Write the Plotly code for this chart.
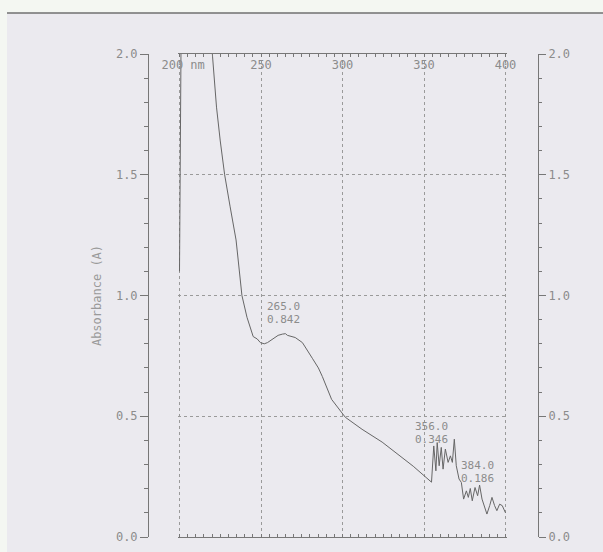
import plotly.graph_objects as go

# ---- data ----
wavelength_nm = [200.0, 200.6, 201.2, 205.0, 210.0, 215.0, 219.0, 220.2, 222.7, 225.0,
                 227.7, 231.0, 234.7, 238.3, 241.4, 245.2, 247.7, 249.6, 252.0, 254.0,
                 257.6, 260.5, 263.1, 265.0, 266.2, 271.0, 275.4, 278.4, 281.5, 285.2,
                 287.6, 293.3, 301.7, 312.0, 324.3, 343.4, 354.6, 356.0, 357.3, 358.1,
                 359.3, 360.6, 361.7, 363.1, 364.8, 366.2, 367.4, 368.6, 369.8, 371.5,
                 372.9, 374.3, 376.0, 377.2, 378.4, 379.6, 381.3, 382.9, 384.1, 385.6,
                 387.2, 388.6, 390.3, 391.7, 393.3, 394.7, 396.4, 398.0, 400.0]
absorbance = [1.10, 1.70, 2.30, 2.30, 2.30, 2.30, 2.10, 2.00, 1.78, 1.64,
              1.50, 1.37, 1.23, 1.00, 0.91, 0.83, 0.82, 0.805, 0.80, 0.805,
              0.82, 0.835, 0.84, 0.842, 0.835, 0.826, 0.805, 0.77, 0.74, 0.70,
              0.665, 0.57, 0.496, 0.446, 0.393, 0.293, 0.227, 0.377, 0.274, 0.391,
              0.295, 0.371, 0.281, 0.364, 0.309, 0.336, 0.309, 0.405, 0.295, 0.240,
              0.226, 0.157, 0.191, 0.164, 0.201, 0.150, 0.205, 0.171, 0.215, 0.157,
              0.123, 0.095, 0.130, 0.164, 0.130, 0.109, 0.136, 0.130, 0.100]

peak_nm = [265.0, 356.0, 384.0]
peak_abs = [0.842, 0.346, 0.186]

x_tickvals = [200, 250, 300, 350, 400]
x_ticktext = ["\u00a0200\u00a0nm", "250", "300", "350", "400"]
y_tickvals = [0.0, 0.5, 1.0, 1.5, 2.0]
y_ticktext = ["0.0", "0.5", "1.0", "1.5", "2.0"]

# ---- styling ----
MONO = "DejaVu Sans Mono"
TXT = "#8c8c8c"
AX = "#777777"
GRID = "#9a9a9a"
PAPER = "#ebeaef"

L, R, T, B = 148, 65, 54, 8
W, H = 603, 552
pw = W - L - R
ph = 538 - T          # drawn plot height in pixels
PX_PER_NM = (505.5 - 179.5) / 200.0
X_RANGE = [199.0, 401.0]          # tiny pad so edge grid lines stay visible
x0 = (179.5 - (200 - X_RANGE[0]) * PX_PER_NM - L) / pw
x1 = (505.5 + (X_RANGE[1] - 400) * PX_PER_NM - L) / pw


def px_to_paper_y(py):
    return (538 - py) / ph


def px_to_paper_x(px):
    return (px - L) / pw


fig = go.Figure()
fig.add_trace(go.Scatter(x=wavelength_nm, y=absorbance, mode="lines",
                         line=dict(color="#666666", width=1),
                         showlegend=False, hoverinfo="x+y"))
# invisible trace so the label axis and the right-hand axis are drawn
fig.add_trace(go.Scatter(x=[wavelength_nm[-1]], y=[absorbance[-1]],
                         xaxis="x2", yaxis="y2",
                         mode="markers", marker=dict(opacity=0),
                         showlegend=False, hoverinfo="skip"))

for wl, a in zip(peak_nm, peak_abs):
    for txt, dy in ((f"{wl:.1f}", 27), (f"{a:.3f}", 14)):
        fig.add_annotation(x=wl, y=a, text=txt, showarrow=False,
                           xanchor="center", yanchor="middle",
                           xshift=-2, yshift=dy,
                           font=dict(family=MONO, size=11, color=TXT))

# scanned-paper edge decorations
fig.add_shape(type="rect", xref="paper", yref="paper",
              x0=px_to_paper_x(-5), x1=px_to_paper_x(610),
              y0=px_to_paper_y(13), y1=px_to_paper_y(-5),
              fillcolor="#f4f7f2", line=dict(width=0), layer="below")
fig.add_shape(type="rect", xref="paper", yref="paper",
              x0=px_to_paper_x(-5), x1=px_to_paper_x(7),
              y0=px_to_paper_y(560), y1=px_to_paper_y(13),
              fillcolor="#f4f7f2", line=dict(width=0), layer="below")
fig.add_shape(type="line", xref="paper", yref="paper",
              x0=px_to_paper_x(7), x1=px_to_paper_x(610),
              y0=px_to_paper_y(13), y1=px_to_paper_y(13),
              line=dict(color="#707070", width=1.5))

fig.update_layout(
    width=W, height=H,
    margin=dict(l=L, r=R, t=T, b=B, pad=0),
    paper_bgcolor=PAPER, plot_bgcolor=PAPER,
    font=dict(family=MONO, size=12, color=TXT),
    xaxis=dict(
        domain=[x0, x1], range=X_RANGE, side="top",
        tickvals=x_tickvals, showticklabels=False,
        ticks="inside", ticklen=3,
        tickcolor=AX, showline=True, linecolor=AX, linewidth=1,
        mirror="ticks", showgrid=True, gridcolor=GRID, griddash="dot",
        gridwidth=1, zeroline=False,
        minor=dict(dtick=5, ticks="inside", ticklen=3, tickcolor=AX,
                   showgrid=False),
    ),
    xaxis2=dict(
        domain=[x0, x1], range=X_RANGE, overlaying="x",
        anchor="free", position=px_to_paper_y(71), side="top",
        tickvals=x_tickvals, ticktext=x_ticktext,
        ticks="", showline=False, showgrid=False, zeroline=False,
        tickfont=dict(family=MONO, size=12, color=TXT),
    ),
    yaxis=dict(
        range=[0, 2], anchor="free", position=0, side="left",
        tickvals=y_tickvals, ticktext=y_ticktext,
        ticks="outside", ticklen=8, tickcolor=AX,
        showline=True, linecolor=AX, linewidth=1,
        showgrid=True, gridcolor=GRID, griddash="dot", gridwidth=1,
        zeroline=False,
        minor=dict(dtick=0.1, ticks="outside", ticklen=4, tickcolor=AX,
                   showgrid=False),
        title=dict(text="Absorbance (A)", standoff=10,
                   font=dict(family=MONO, size=12, color="#9a9a9a")),
        tickfont=dict(family=MONO, size=12, color=TXT),
    ),
    yaxis2=dict(
        range=[0, 2], anchor="free", position=1, side="right",
        overlaying="y",
        tickvals=y_tickvals, ticktext=y_ticktext,
        ticks="outside", ticklen=7, tickcolor=AX,
        showline=True, linecolor=AX, linewidth=1,
        showgrid=False, zeroline=False,
        minor=dict(dtick=0.1, ticks="outside", ticklen=3, tickcolor=AX,
                   showgrid=False),
        tickfont=dict(family=MONO, size=12, color=TXT),
    ),
)

fig.write_html("out.html",
               config={"displayModeBar": False},
               post_script="document.body.style.margin='0';"
                           "document.body.style.overflow='hidden';")
